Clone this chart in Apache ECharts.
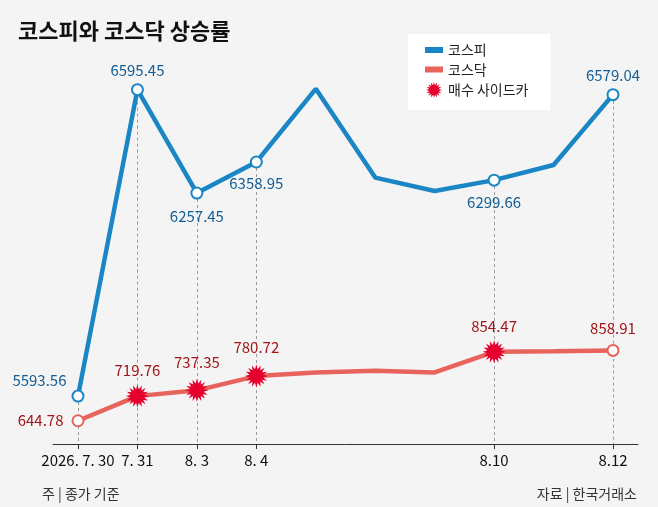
<!DOCTYPE html>
<html>
<head>
<meta charset="utf-8">
<script src="https://cdn.jsdelivr.net/npm/echarts@6/dist/echarts.min.js"></script>
<style>
html,body{margin:0;padding:0;background:#f4f4f4;}
#chart{width:658px;height:507px;}
</style>
</head>
<body>
<div id="chart"></div>
<script>
// ---- data ----
const categories = ['7.30','7.31','8.3','8.4','8.5','8.6','8.7','8.10','8.11','8.12'];
const tickLabels = ['2026. 7. 30','7. 31','8. 3','8. 4','','','','8.10','','8.12'];
const kospi = [5593.56, 6595.45, 6257.45, 6358.95, 6598, 6308, 6264, 6299.66, 6349, 6579.04];
const kosdaq = [644.78, 719.76, 737.35, 780.72, 791.5, 797, 792, 854.47, 856, 858.91];
const sidecar = ['7.31','8.3','8.4','8.10'];
const kospiRange = [5437, 6627];
const kosdaqRange = [574, 1682];

// ---- styling ----
const FONT = '"Noto Sans CJK KR", "Noto Sans", sans-serif';
const BLUE = '#1a86c6', BLUE_TXT = '#135e94';
const RED = '#e8635b', RED_TXT = '#a3161a', STAR = '#e5002d';

function starPath(n, rO, rI){
  let d = '';
  for (let k = 0; k < 2*n; k++){
    const a = k*Math.PI/n - Math.PI/2;
    const r = k%2 ? rI : rO;
    d += (k ? 'L' : 'M') + (50 + r*Math.cos(a)).toFixed(2) + ',' + (50 + r*Math.sin(a)).toFixed(2);
  }
  return 'path://' + d + 'Z';
}
const STAR_SYM = starPath(16, 50, 30);
const RECT_SYM = 'path://M0,0L18,0L18,6L0,6Z';

const labeledIdx = tickLabels.map((t,i)=> t ? i : -1).filter(i=>i>=0);
const bluePlace = {
  0:{position:'left', offset:[0,-16], distance:5},
  1:{position:'top', distance:5},
  2:{position:'bottom', distance:9},
  3:{position:'bottom', distance:7},
  7:{position:'bottom', distance:8},
  9:{position:'top', distance:5}
};
const redPlace = {0:{position:'left', distance:8}, 9:{position:'top', distance:8}};
const starPlace = {'7.31':7, '8.3':9, '8.4':10, '8.10':7};

const labelBase = {fontSize:15, fontFamily:FONT};

const blueData = kospi.map((v,i)=>{
  const shown = labeledIdx.includes(i);
  return {
    value:v,
    symbol: shown ? 'emptyCircle' : 'none',
    label: shown ? Object.assign({show:true, color:BLUE_TXT}, labelBase, bluePlace[i]) : {show:false}
  };
});
const redData = kosdaq.map((v,i)=>{
  const circle = labeledIdx.includes(i) && !sidecar.includes(categories[i]);
  return {
    value:v,
    symbol: circle ? 'emptyCircle' : 'none',
    label: circle ? Object.assign({show:true, color:RED_TXT}, labelBase, redPlace[i]) : {show:false}
  };
});
const starData = sidecar.map(d=>{
  const i = categories.indexOf(d);
  return {value:[d, kosdaq[i]], label:Object.assign({show:true, position:'top', color:RED_TXT, distance:starPlace[d]}, labelBase)};
});
const dropLines = labeledIdx.map(i=>[
  {coord:[categories[i], kospi[i]]},
  {coord:[categories[i], kospiRange[0]]}
]);

const showTick = (i)=> tickLabels[i] !== '';

const option = {
  backgroundColor:'#f4f4f4',
  animation:false,
  textStyle:{fontFamily:FONT},
  title:[
    {text:'코스피와 코스닥 상승률', left:13, top:15, textStyle:{fontSize:22, fontWeight:'bold', color:'#111', fontFamily:FONT}},
    {text:'주 | 종가 기준', left:37, top:482, textStyle:{fontSize:14, fontWeight:'normal', color:'#333', fontFamily:FONT}},
    {text:'자료 | 한국거래소', right:16, top:482, textStyle:{fontSize:14, fontWeight:'normal', color:'#333', fontFamily:FONT}}
  ],
  legend:{
    orient:'vertical', left:408, top:34,
    backgroundColor:'#ffffff',
    padding:[9,22,12,17],
    itemWidth:18, itemHeight:16, itemGap:5.5,
    symbolKeepAspect:true,
    itemStyle:{borderWidth:0},
    textStyle:{fontSize:14, color:'#222', fontFamily:FONT},
    data:[
      {name:'코스피', icon:RECT_SYM},
      {name:'코스닥', icon:RECT_SYM},
      {name:'매수 사이드카', icon:STAR_SYM}
    ]
  },
  grid:[
    {left:78, right:45, top:80, bottom:63},
    {left:53, right:20, top:80, bottom:63}
  ],
  xAxis:[
    {
      type:'category', gridIndex:0, data:categories, boundaryGap:false,
      axisLine:{show:false},
      axisTick:{show:true, interval:showTick, length:5, lineStyle:{color:'#333'}},
      axisLabel:{interval:showTick, formatter:(v,i)=>tickLabels[i], fontSize:15, color:'#111', margin:9, fontFamily:FONT},
      splitLine:{show:false}
    },
    {
      type:'value', gridIndex:1, min:0, max:1,
      axisLine:{show:true, lineStyle:{color:'#333', width:1}},
      axisTick:{show:false}, axisLabel:{show:false}, splitLine:{show:false}
    }
  ],
  yAxis:[
    {type:'value', gridIndex:0, min:kospiRange[0], max:kospiRange[1], show:false, splitLine:{show:false}},
    {type:'value', gridIndex:0, min:kosdaqRange[0], max:kosdaqRange[1], show:false, splitLine:{show:false}},
    {type:'value', gridIndex:1, min:0, max:1, show:false, splitLine:{show:false}}
  ],
  series:[
    {
      name:'코스피', type:'line', xAxisIndex:0, yAxisIndex:0, z:2,
      data:blueData, symbolSize:11,
      lineStyle:{color:BLUE, width:4.5},
      itemStyle:{color:BLUE, borderWidth:2.5},
      label:{formatter:p=>p.value.toFixed(2)},
      markLine:{
        silent:true, z:1, symbol:['none','none'],
        label:{show:false},
        lineStyle:{color:'#9a9a9a', type:[3,3], width:1},
        data:dropLines
      }
    },
    {
      name:'코스닥', type:'line', xAxisIndex:0, yAxisIndex:1, z:3,
      data:redData, symbolSize:11,
      lineStyle:{color:RED, width:4.5},
      itemStyle:{color:RED, borderWidth:2.5},
      label:{formatter:p=>p.value.toFixed(2)}
    },
    {
      name:'매수 사이드카', type:'scatter', xAxisIndex:0, yAxisIndex:1, z:4,
      data:starData, symbol:STAR_SYM, symbolSize:23,
      itemStyle:{color:STAR, opacity:1},
      label:{formatter:p=>p.value[1].toFixed(2)}
    }
  ]
};
const chart = echarts.init(document.getElementById('chart'));
chart.setOption(option);
</script>
</body>
</html>
